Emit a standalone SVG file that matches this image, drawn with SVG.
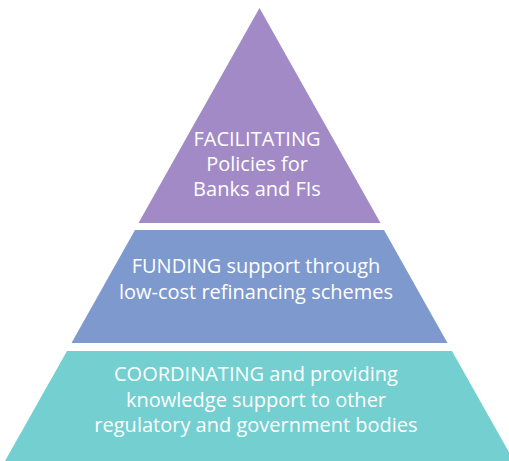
<svg xmlns="http://www.w3.org/2000/svg" width="509" height="461" viewBox="0 0 509 461">
<style>
text{font-family:"Open Sans","Liberation Sans",sans-serif;font-size:20px;fill:#ffffff;text-anchor:middle}
.top{fill:#a28ac6}.mid{fill:#7e99cd}.bot{fill:#73cfd0}
</style>
<rect width="509" height="461" fill="#ffffff"/>
<g id="tier-facilitating">
<polygon class="top" points="259.5,8 380.5,223 138.5,223"/>
<text x="257" y="146">FACILITATING</text>
<text x="257" y="171">Policies for</text>
<text x="257" y="196">Banks and FIs</text>
</g>
<g id="tier-funding">
<polygon class="mid" points="135,230 384,230 447.5,343 71.5,343"/>
<text x="256" y="273">FUNDING support through</text>
<text x="256" y="299">low-cost refinancing schemes</text>
</g>
<g id="tier-coordinating">
<polygon class="bot" points="67,351 452,351 514,461 5,461"/>
<text x="256" y="381">COORDINATING and providing</text>
<text x="256" y="407">knowledge support to other</text>
<text x="256" y="432">regulatory and government bodies</text>
</g>
<g id="connectors"/>
</svg>
